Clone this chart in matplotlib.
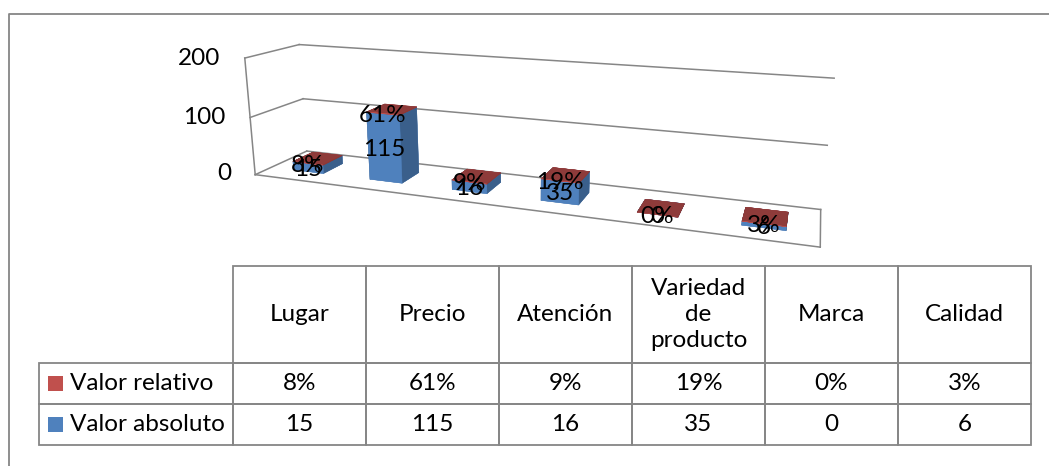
import matplotlib
matplotlib.use("Agg")
import matplotlib.pyplot as plt
from matplotlib.patches import Rectangle
import numpy as np

# datos de la encuesta
categorias = ["Lugar", "Precio", "Atención", "Variedad\nde\nproducto", "Marca", "Calidad"]
valor_absoluto = [15, 115, 16, 35, 0, 6]
valor_relativo = [0.08, 0.61, 0.09, 0.19, 0.00, 0.03]
series = ["Valor relativo", "Valor absoluto"]
ticks_z = [0, 100, 200]

plt.rcParams["font.family"] = ["Lato", "DejaVu Sans"]
plt.rcParams["font.size"] = 17.5

GRIS = "#868686"
ROJO = "#C0504D"
AZUL = "#4F81BD"
# caras: -z, +z, -y, +y, -x, +x
CARAS_AZUL = ["#4A78B0", "#4A78B0", "#4F81BD", "#4F81BD", "#3A5F8B", "#3A5F8B"]
CARAS_ROJO = ["#8E3B3A", "#8E3B3A", "#C0504D", "#C0504D", "#8C3836", "#8C3836"]

W, H = 1049, 466
fig = plt.figure(figsize=(W / 100, H / 100), dpi=100)

# ejes 3D en perspectiva (cuadrado que se sale por arriba de la figura)
lado = 581
cx, cy = 520.2, 130.5
izq = cx - 0.5135 * lado
abajo = H - (cy + 0.5135 * lado)
ax = fig.add_axes([izq / W, abajo / H, lado / W, lado / H],
                  projection="3d", computed_zorder=False)
ax.set_proj_type("persp", focal_length=0.2568)
ax.view_init(elev=15.0, azim=-70.0)
ax.set_box_aspect((6, 1, 1.33))
n = len(categorias)
ax.set_xlim(0, n)
ax.set_ylim(0, 1)
ax.set_zlim(0, ticks_z[-1])
ax.set_axis_off()
ax.patch.set_visible(False)

lineas = dict(color=GRIS, lw=1.1, zorder=0.5, clip_on=False)

# paredes: lineas de division en el fondo y la pared izquierda
for z in ticks_z:
    ax.plot([0, n], [1, 1], [z, z], **lineas)
    ax.plot([0, 0], [0, 1], [z, z], **lineas)
    ax.text(-0.33, 0, z, str(z), ha="right", va="center_baseline", zorder=10)
ax.plot([0, 0], [0, 0], [0, ticks_z[-1]], **lineas)
ax.plot([0, n], [0, 0], [0, 0], **lineas)
ax.plot([n, n], [0, 1], [0, 0], **lineas)

# columnas apiladas
pos = np.arange(n) + 0.5
ancho = 0.4
x0 = pos - ancho / 2
y0 = np.full(n, 0.5 - ancho / 2)
abs_ = np.array(valor_absoluto, dtype=float)
rel_ = np.array(valor_relativo, dtype=float)
barras_azul = ax.bar3d(x0, y0, np.zeros(n), ancho, ancho, abs_, color=CARAS_AZUL * n,
                       edgecolor=CARAS_AZUL * n, linewidth=0.3, shade=False, zorder=1)
barras_rojo = ax.bar3d(x0, y0, abs_, ancho, ancho, rel_, color=CARAS_ROJO * n,
                       edgecolor=CARAS_ROJO * n, linewidth=0.3, shade=False, zorder=2)
barras_azul.set_clip_on(False)
barras_rojo.set_clip_on(False)

# etiquetas de datos sobre la cara frontal
for i in range(n):
    ax.text(pos[i], y0[i], abs_[i] / 2, f"{valor_absoluto[i]}",
            ha="center", va="center_baseline", zorder=10)
    ax.text(pos[i], y0[i], abs_[i] + rel_[i] / 2, f"{valor_relativo[i]:.0%}",
            ha="center", va="center_baseline", zorder=10)

# tabla de datos y marco en coordenadas de pixel
ax2 = fig.add_axes([0, 0, 1, 1])
ax2.set_xlim(0, W)
ax2.set_ylim(H, 0)
ax2.axis("off")

ax2.plot([9, 9, W], [H, 14, 14], color=GRIS, lw=1.3)

t_x0 = 39
ancho_ley = 194
ancho_col = 133
y_cab = 266
alto_cab = 97
alto_fila = 41
x_col = t_x0 + ancho_ley

for j, cat in enumerate(categorias):
    xc = x_col + j * ancho_col
    ax2.add_patch(Rectangle((xc, y_cab), ancho_col, alto_cab, fill=False,
                            edgecolor=GRIS, lw=1.3))
    ax2.text(xc + ancho_col / 2, y_cab + alto_cab / 2, cat, ha="center",
             va="center", linespacing=1.3)

filas = [[f"{v:.0%}" for v in valor_relativo], [str(v) for v in valor_absoluto]]
colores = [ROJO, AZUL]
for k, (nombre, fila) in enumerate(zip(series, filas)):
    yf = y_cab + alto_cab + k * alto_fila
    ax2.add_patch(Rectangle((t_x0, yf), ancho_ley, alto_fila, fill=False,
                            edgecolor=GRIS, lw=1.3))
    ax2.add_patch(Rectangle((t_x0 + 9, yf + alto_fila / 2 - 7.5), 15, 15,
                            facecolor=colores[k], edgecolor="none"))
    ax2.text(t_x0 + 31, yf + alto_fila / 2, nombre, ha="left", va="center")
    for j, val in enumerate(fila):
        xc = x_col + j * ancho_col
        ax2.add_patch(Rectangle((xc, yf), ancho_col, alto_fila, fill=False,
                                edgecolor=GRIS, lw=1.3))
        ax2.text(xc + ancho_col / 2, yf + alto_fila / 2, val, ha="center",
                 va="center")

fig.savefig("out.png", dpi=100)
